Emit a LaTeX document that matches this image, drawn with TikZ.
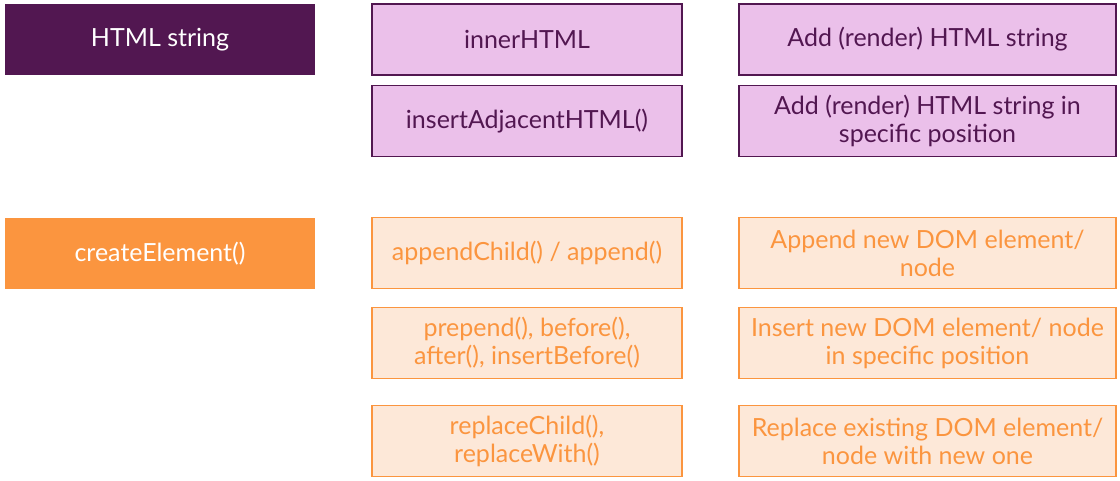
\documentclass[tikz,border=0pt]{standalone}
\usepackage{fontspec}
\setmainfont{Lato}
\usepackage{tikz}

\definecolor{plum}{HTML}{521751}
\definecolor{pinkfill}{HTML}{EBC0EA}
\definecolor{orng}{HTML}{FB953F}
\definecolor{peach}{HTML}{FDE8D8}

\tikzset{
  base/.style={inner sep=0pt, outer sep=0pt, align=center, minimum height=35.5pt,
    font=\fontsize{12.5}{14}\selectfont},
  headhtml/.style={base, fill=plum, text=white, minimum width=155pt},
  headelem/.style={base, fill=orng, text=white, minimum width=155pt},
  htmlbox/.style={base, fill=pinkfill, draw=plum, line width=0.6pt, text=plum},
  elembox/.style={base, fill=peach, draw=orng, line width=0.6pt, text=orng},
  midcol/.style={minimum width=155pt},
  rightcol/.style={minimum width=188.5pt}
}

\begin{document}
\begin{tikzpicture}[x=0.5pt,y=-0.5pt]
\useasboundingbox (0,0) rectangle (1120,481);
% html string group
\node[headhtml] (html) at (160,39.5) {HTML string};
\node[htmlbox,midcol] (inner) at (527,39.5) {innerHTML};
\node[htmlbox,midcol] (adjacent) at (527,121) {insertAdjacentHTML()};
\node[htmlbox,rightcol] (innerdesc) at (927.5,39.5) {Add (render) HTML string};
\node[htmlbox,rightcol] (adjdesc) at (927.5,121) {Add (render) HTML string in\\specific position};
% createElement group
\node[headelem] (create) at (160,253.5) {createElement()};
\node[elembox,midcol] (append) at (527,253) {appendChild() / append()};
\node[elembox,midcol] (prepend) at (527,343) {prepend(), before(),\\after(), insertBefore()};
\node[elembox,midcol] (replace) at (527,441) {replaceChild(),\\replaceWith()};
\node[elembox,rightcol] (appenddesc) at (927.5,253) {Append new DOM element/\\node};
\node[elembox,rightcol] (prependdesc) at (927.5,343) {Insert new DOM element/ node\\in specific position};
\node[elembox,rightcol] (replacedesc) at (927.5,441) {Replace existing DOM element/\\node with new one};
\end{tikzpicture}
\end{document}
